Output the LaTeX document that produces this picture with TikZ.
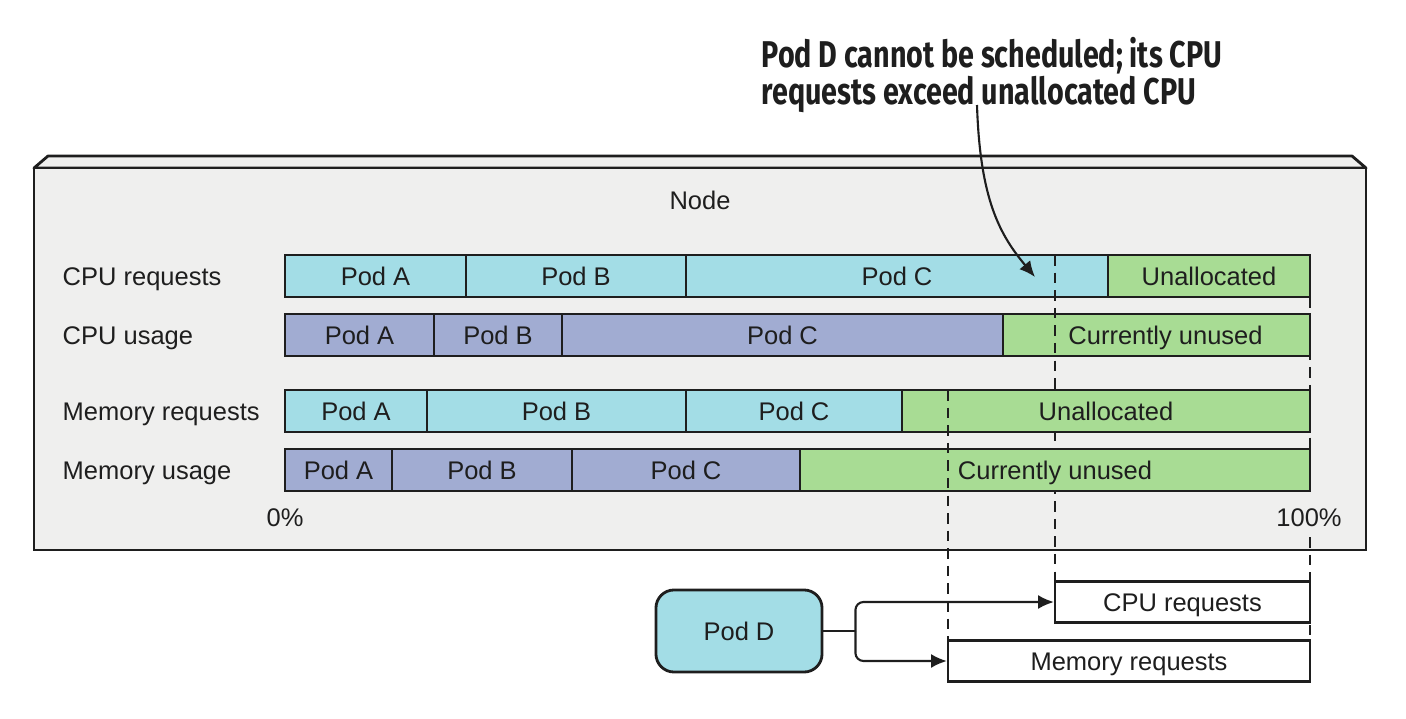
\documentclass[tikz,border=0pt]{standalone}
\usepackage{fontspec}
\setmainfont{Liberation Sans}
\newfontfamily\notefont[FakeStretch=0.77]{Fira Sans}
\usetikzlibrary{arrows.meta}
\definecolor{reqcyan}{HTML}{A3DDE6}
\definecolor{usepurple}{HTML}{A1ACD2}
\definecolor{freegreen}{HTML}{A8DC94}
\definecolor{nodegrey}{HTML}{EFEFEE}
\definecolor{ink}{HTML}{1E1E1E}

\begin{document}
\begin{tikzpicture}[x=0.01cm, y=-0.01cm, color=ink,
    font=\fontsize{7.25}{9}\selectfont,
    every node/.style={text height=0.183cm, text depth=0pt},
    seg/.style={draw=ink, line width=0.6pt},
    gapline/.style={draw=ink, line width=0.6pt, dash pattern=on 3pt off 2pt},
    rowlabel/.style={anchor=west, inner sep=0pt},
    reqbox/.style={draw=ink, line width=0.6pt, fill=white, minimum height=0.41cm, inner sep=0pt},
    tip/.style={-{Latex[length=4.5pt, width=4pt]}, line width=0.6pt}]
  \useasboundingbox (0,0) rectangle (1406,718);

  % the node
  \draw[fill=nodegrey, line width=0.8pt, line join=round] (34,168) -- (48,156) -- (1352,156) -- (1366,168) -- cycle;
  \draw[fill=nodegrey, line width=0.8pt] (34,168) rectangle (1366,550);
  \node (nodetitle) at (700,200) {Node};

  % row labels
  \node[rowlabel] (cpureqlbl) at (62,276) {CPU requests};
  \node[rowlabel] (cpuuselbl) at (62,335) {CPU usage};
  \node[rowlabel] (memreqlbl) at (62,411) {Memory requests};
  \node[rowlabel] (memuselbl) at (62,470) {Memory usage};
  \node (zero) at (285,517) {0\%};
  \node (full) at (1309,517) {100\%};

  % cpu bars
  \foreach \a/\b/\c/\t in {285/466/reqcyan/Pod A, 466/686/reqcyan/Pod B,
      686/1108/reqcyan/Pod C, 1108/1310/freegreen/Unallocated}
    \draw[seg, fill=\c] (\a,255) rectangle node {\t} (\b,297);
  \foreach \a/\b/\c/\t in {285/434/usepurple/Pod A, 434/562/usepurple/Pod B,
      562/1003/usepurple/Pod C}
    \draw[seg, fill=\c] (\a,314) rectangle node {\t} (\b,356);
  \draw[seg, fill=freegreen] (1003,314) rectangle node[xshift=0.09cm] {Currently unused} (1310,356);
  \draw[gapline] (1055,255) -- (1055,582);

  % memory bars
  \foreach \a/\b/\c/\t in {285/427/reqcyan/Pod A, 427/686/reqcyan/Pod B,
      686/902/reqcyan/Pod C, 902/1310/freegreen/Unallocated}
    \draw[seg, fill=\c] (\a,390) rectangle node {\t} (\b,432);
  \foreach \a/\b/\c/\t in {285/392/usepurple/Pod A, 392/572/usepurple/Pod B,
      572/800/usepurple/Pod C, 800/1310/freegreen/Currently unused}
    \draw[seg, fill=\c] (\a,449) rectangle node {\t} (\b,491);
  \draw[gapline] (948,390) -- (948,640);
  \draw[gapline] (1310,297) -- (1310,491);
  \draw[gapline] (1310,537) -- (1310,640);

  % pod D and its requests
  \node[draw=ink, line width=0.8pt, fill=reqcyan, rounded corners=0.18cm,
        minimum width=1.66cm, minimum height=0.82cm] (podd) at (739,631) {Pod D};
  \node[reqbox, minimum width=2.55cm] (cpubox) at (1182.5,602) {CPU requests};
  \node[reqbox, minimum width=3.62cm] (membox) at (1129,661) {Memory requests};
  \draw[line width=0.6pt] (podd.east) -- ++(32,0) coordinate (fork);
  \draw[tip, rounded corners=0.08cm] (fork) |- (cpubox.west);
  \draw[tip, rounded corners=0.08cm] (fork) |- (membox.west);

  % note
  \node[anchor=north west, align=left, inner sep=0pt, text height=, text depth=,
        font=\notefont\bfseries\fontsize{10.6}{10.3}\selectfont] (note) at (761,37)
    {Pod D cannot be scheduled; its CPU\\requests exceed unallocated CPU};
  \coordinate (notetail) at (977,105);
  \coordinate (notehead) at (1035,277);
  \draw[tip] (notetail) .. controls (980,200) and (1000,235) .. (notehead);
\end{tikzpicture}
\end{document}
